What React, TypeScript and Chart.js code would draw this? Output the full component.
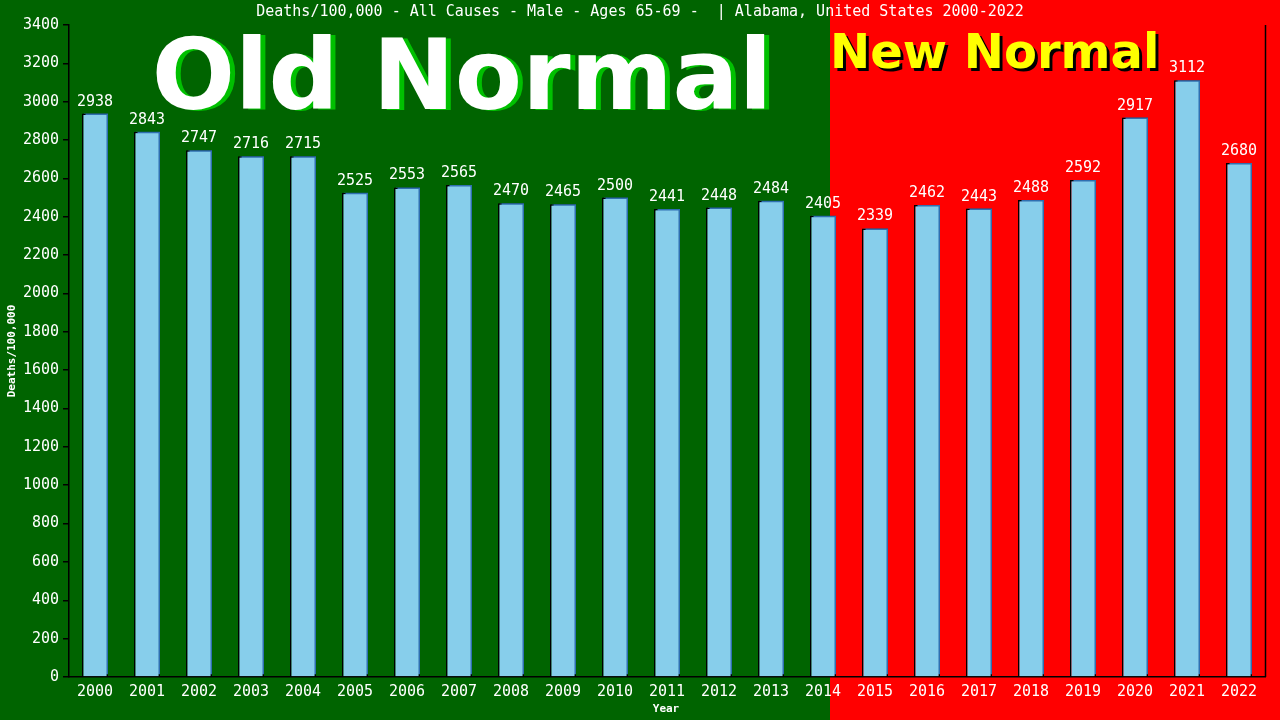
import React, { useEffect, useRef } from 'react';
import { Chart, registerables } from 'chart.js';

Chart.register(...registerables);

const years = [
  '2000', '2001', '2002', '2003', '2004', '2005', '2006', '2007', '2008', '2009', '2010', '2011',
  '2012', '2013', '2014', '2015', '2016', '2017', '2018', '2019', '2020', '2021', '2022',
];
const deathRates = [
  2938, 2843, 2747, 2716, 2715, 2525, 2553, 2565, 2470, 2465, 2500, 2441,
  2448, 2484, 2405, 2339, 2462, 2443, 2488, 2592, 2917, 3112, 2680,
];
const chartTitle = 'Deaths/100,000 - All Causes - Male - Ages 65-69 -  | Alabama, United States 2000-2022';
const yTitle = 'Deaths/100,000';
const xTitle = 'Year';

const MONO = '"DejaVu Sans Mono", monospace';
const GREEN = '#006400';
const RED = '#ff0000';

// backgrounds, banner text, title, bar labels
const overlayPlugin = {
  id: 'overlay',
  beforeDraw(chart: any) {
    const { ctx, width, height } = chart;
    const split = Math.round(width * 0.6484);
    ctx.save();
    ctx.fillStyle = GREEN;
    ctx.fillRect(0, 0, split, height);
    ctx.fillStyle = RED;
    ctx.fillRect(split, 0, width - split, height);

    // Old Normal
    ctx.font = 'bold 98px "DejaVu Sans", sans-serif';
    ctx.textAlign = 'center';
    ctx.textBaseline = 'alphabetic';
    ctx.fillStyle = '#00c000';
    ctx.fillText('Old Normal', 467, 110);
    ctx.fillStyle = '#ffffff';
    ctx.fillText('Old Normal', 462, 109);

    // New Normal
    ctx.font = 'bold 48px "DejaVu Sans", sans-serif';
    ctx.textAlign = 'left';
    ctx.fillStyle = '#000000';
    ctx.fillText('New Normal', 833, 71);
    ctx.fillStyle = '#ffff00';
    ctx.fillText('New Normal', 830, 68);

    // title
    ctx.font = `15px ${MONO}`;
    ctx.textAlign = 'center';
    ctx.textBaseline = 'middle';
    ctx.fillStyle = '#ffffff';
    ctx.fillText(chartTitle, 640, 12);

    // axis titles
    ctx.font = `bold 11px ${MONO}`;
    ctx.fillText(xTitle, 666, 709);
    ctx.save();
    ctx.translate(12, 351);
    ctx.rotate(-Math.PI / 2);
    ctx.fillText(yTitle, 0, 0);
    ctx.restore();
    ctx.restore();
  },
  beforeDatasetsDraw(chart: any) {
    const ctx = chart.ctx;
    ctx.save();
    ctx.shadowColor = '#2f6fb0';
    ctx.shadowOffsetX = 2;
    ctx.shadowOffsetY = -2;
    ctx.shadowBlur = 0;
  },
  afterDatasetsDraw(chart: any) {
    const { ctx, chartArea } = chart;
    ctx.restore();
    const meta = chart.getDatasetMeta(0);
    ctx.save();
    ctx.font = `15px ${MONO}`;
    ctx.fillStyle = '#ffffff';
    ctx.textAlign = 'center';
    ctx.textBaseline = 'alphabetic';
    meta.data.forEach((bar: any, i: number) => {
      ctx.fillText(String(deathRates[i]), bar.x, bar.y - 8);
    });
    // right frame line
    ctx.strokeStyle = '#000000';
    ctx.lineWidth = 1.5;
    ctx.beginPath();
    ctx.moveTo(chartArea.right + 0.5, chartArea.top);
    ctx.lineTo(chartArea.right + 0.5, chartArea.bottom);
    ctx.stroke();
    ctx.restore();
  },
};

const App: React.FC = () => {
  const canvasRef = useRef<HTMLCanvasElement>(null);
  const chartRef = useRef<Chart | null>(null);

  useEffect(() => {
    if (!canvasRef.current) return;
    const ctx = canvasRef.current.getContext('2d');
    if (!ctx) return;

    chartRef.current = new Chart(ctx, {
      type: 'bar',
      data: {
        labels: years,
        datasets: [
          {
            data: deathRates,
            backgroundColor: '#87ceeb',
            borderColor: '#000000',
            borderWidth: 1.5,
            barPercentage: 0.5,
            categoryPercentage: 1,
          },
        ],
      },
      options: {
        responsive: false,
        animation: false,
        devicePixelRatio: 1,
        layout: { padding: { top: 25, right: 15, left: 0, bottom: 0 } },
        plugins: {
          legend: { display: false },
          tooltip: { enabled: false },
          title: { display: false },
        },
        scales: {
          x: {
            afterFit: (s: any) => { s.height = 43; },
            grid: { display: false, drawTicks: false },
            border: { display: true, color: '#000000', width: 1.5 },
            ticks: {
              color: '#ffffff',
              font: { family: MONO, size: 15 },
              padding: 6,
              maxRotation: 0,
            },
          },
          y: {
            min: 0,
            max: 3400,
            afterFit: (s: any) => { s.width = 69; },
            grid: {
              display: true,
              drawOnChartArea: false,
              drawTicks: true,
              tickLength: 6,
              color: '#000000',
              lineWidth: 1.5,
            },
            border: { display: true, color: '#000000', width: 1.5 },
            ticks: {
              stepSize: 200,
              color: '#ffffff',
              font: { family: MONO, size: 15 },
              padding: 4,
              callback: (value: any) => String(value),
            },
          },
        },
      },
      plugins: [overlayPlugin],
    });

    return () => {
      if (chartRef.current) {
        chartRef.current.destroy();
        chartRef.current = null;
      }
    };
  }, []);

  return (
    <div style={{ position: 'fixed', left: 0, top: 0, width: 1280, height: 720 }}>
      <canvas ref={canvasRef} width={1280} height={720} style={{ width: 1280, height: 720 }} />
    </div>
  );
};

export default App;
